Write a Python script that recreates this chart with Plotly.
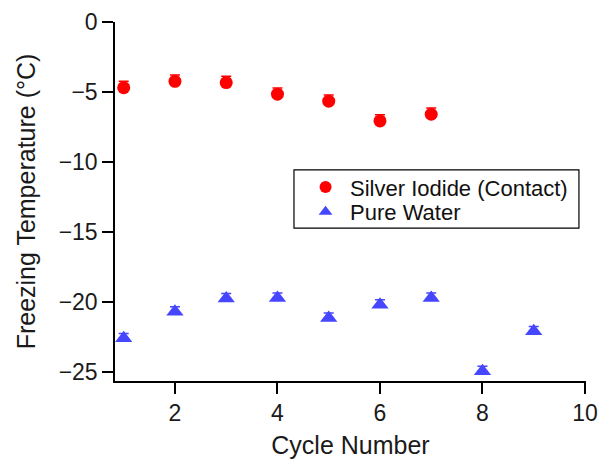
import plotly.graph_objects as go

cycles_agi = [1, 2, 3, 4, 5, 6, 7]
temp_agi = [-4.69, -4.24, -4.33, -5.16, -5.66, -7.07, -6.59]
err_agi = [0.45, 0.45, 0.45, 0.45, 0.45, 0.45, 0.45]

cycles_water = [1, 2, 3, 4, 5, 6, 7, 8, 9]
temp_water = [-22.6, -20.7, -19.75, -19.72, -21.15, -20.2, -19.72, -24.95, -22.1]
err_water = [0.35, 0.35, 0.35, 0.35, 0.35, 0.35, 0.35, 0.35, 0.35]

x_ticks = [2, 4, 6, 8, 10]
y_ticks = [0, -5, -10, -15, -20, -25]

font = "Liberation Sans, Arial, sans-serif"

fig = go.Figure()
fig.add_trace(go.Scatter(
    x=cycles_agi, y=temp_agi, mode="markers", name="Silver Iodide (Contact)",
    marker=dict(symbol="circle", size=13, color="#ff0000"),
    error_y=dict(type="data", array=err_agi, arrayminus=[0]*len(err_agi),
                 color="#ff0000", thickness=1.5, width=5),
    legend="legend",
))
fig.add_trace(go.Scatter(
    x=cycles_water, y=temp_water, mode="markers", name="Pure Water",
    marker=dict(symbol="triangle-up", size=15, color="#4646ff"),
    error_y=dict(type="data", array=err_water, arrayminus=[0]*len(err_water),
                 color="#4646ff", thickness=1.5, width=5),
    legend="legend2",
))

leg_common = dict(
    xanchor="left", yanchor="middle",
    borderwidth=0, bgcolor="rgba(0,0,0,0)",
    font=dict(size=22, color="#111"),
    itemsizing="constant", itemwidth=39,
)

fig.update_layout(
    width=602, height=459,
    margin=dict(l=115, r=16, t=22, b=78),
    paper_bgcolor="white", plot_bgcolor="white",
    font=dict(family=font, size=23, color="#1a1a1a"),
    showlegend=True,
    legend=dict(x=0.395, y=0.540, **leg_common),
    legend2=dict(x=0.395, y=0.471, **leg_common),
    shapes=[dict(type="rect", xref="paper", yref="paper",
                 x0=0.380, x1=0.985, y0=0.426, y1=0.588,
                 line=dict(color="black", width=1.2), fillcolor="rgba(0,0,0,0)",
                 layer="above")],
    xaxis=dict(
        range=[0.83, 10.02], tickvals=x_ticks, automargin=False,
        showgrid=False, zeroline=False, showline=True, linecolor="black", linewidth=1.5,
        ticks="outside", ticklen=11, tickwidth=1.5, tickcolor="black",
        tickfont=dict(size=23),
        title=dict(text="Cycle Number", standoff=11, font=dict(size=25)),
    ),
    yaxis=dict(
        range=[-25.65, 0], tickvals=y_ticks, automargin=False,
        showgrid=False, zeroline=False, showline=True, linecolor="black", linewidth=1.5,
        ticks="outside", ticklen=11, tickwidth=1.5, tickcolor="black",
        tickfont=dict(size=23),
        title=dict(text="Freezing Temperature (°C)", standoff=16, font=dict(size=25)),
    ),
)

fig.write_html("out.html")
